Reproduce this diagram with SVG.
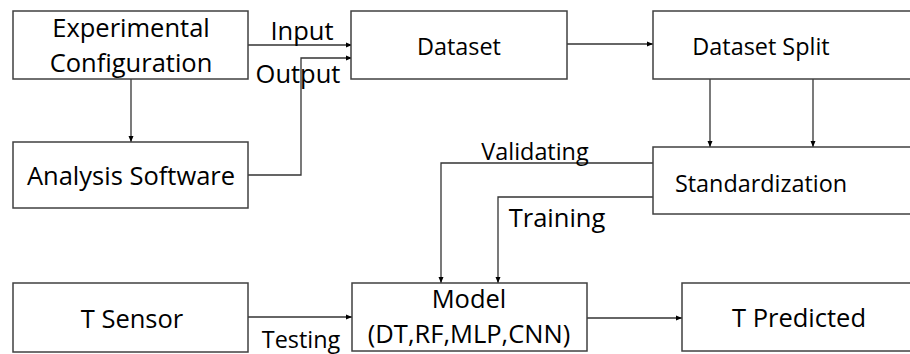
<svg xmlns="http://www.w3.org/2000/svg" width="910" height="354" viewBox="0 0 910 354">
<defs>
<marker id="ah" markerWidth="8" markerHeight="8" refX="7" refY="4" orient="auto" markerUnits="userSpaceOnUse">
<path d="M1,1.5 L7,4 L1,6.5 Z" fill="#000"/>
</marker>
<style>
.box{fill:#fff;stroke:#404040;stroke-width:1.5}
.t{font-family:"Open Sans","Liberation Sans",sans-serif;font-size:25.5px;fill:#000;text-anchor:middle}
.s{font-size:23.4px}
.c{fill:none;stroke:#333;stroke-width:1.3;marker-end:url(#ah)}
</style>
</defs>
<rect width="910" height="354" fill="#fff"/>
<g id="connectors">
<path class="c" d="M131,79 V142"/>
<path class="c" d="M248,45 H352"/>
<path class="c" d="M248,175 H301 V58 H352"/>
<path class="c" d="M567,44 H653"/>
<path class="c" d="M710,79 V147"/>
<path class="c" d="M813,79 V147"/>
<path class="c" d="M653,163 H441 V283"/>
<path class="c" d="M653,197 H498 V283"/>
<path class="c" d="M248,317 H352"/>
<path class="c" d="M587,318 H682"/>
</g>
<g id="labels">
<text class="t" x="302" y="40">Input</text>
<text class="t" x="298" y="83">Output</text>
<text class="t s" x="535" y="160">Validating</text>
<text class="t" x="557" y="227" font-size="24.4">Training</text>
<text class="t s" x="301" y="348">Testing</text>
</g>
<g id="exp-config">
<rect class="box" x="13" y="11" width="235" height="68"/>
<text class="t" x="131" y="37">Experimental</text>
<text class="t" x="131" y="72">Configuration</text>
</g>
<g id="analysis-software">
<rect class="box" x="13" y="142" width="235" height="66"/>
<text class="t" x="131" y="185" font-size="26">Analysis Software</text>
</g>
<g id="dataset">
<rect class="box" x="351" y="11" width="216" height="68"/>
<text class="t s" x="459" y="55">Dataset</text>
</g>
<g id="dataset-split">
<rect class="box" x="653" y="11" width="270" height="68"/>
<text class="t s" x="761" y="55">Dataset Split</text>
</g>
<g id="standardization">
<rect class="box" x="653" y="147" width="270" height="67"/>
<text class="t s" x="761" y="192">Standardization</text>
</g>
<g id="t-sensor">
<rect class="box" x="13" y="283" width="235" height="69"/>
<text class="t" x="132" y="328" font-size="25">T Sensor</text>
</g>
<g id="model">
<rect class="box" x="352" y="283" width="235" height="68"/>
<text class="t" x="469" y="308" font-size="25">Model</text>
<text class="t" x="469" y="343" font-size="25">(DT,RF,MLP,CNN)</text>
</g>
<g id="t-predicted">
<rect class="box" x="682" y="283" width="240" height="68"/>
<text class="t" x="799" y="327" font-size="26">T Predicted</text>
</g>
</svg>
